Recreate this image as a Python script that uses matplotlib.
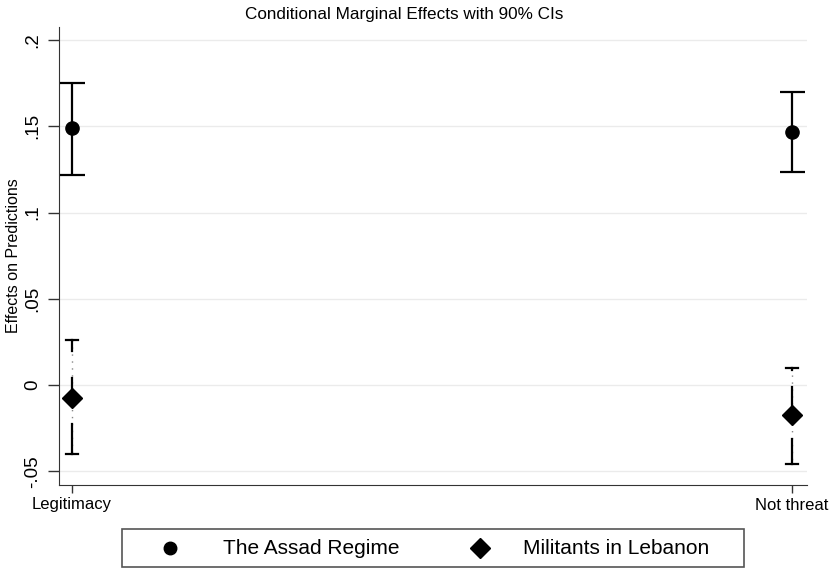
import numpy as np
import matplotlib
matplotlib.use("Agg")
import matplotlib.pyplot as plt
from matplotlib.lines import Line2D
from matplotlib.patches import Rectangle

plt.rcParams['font.family'] = ['Liberation Sans', 'DejaVu Sans']

categories = ['Legitimacy', 'Not threat']

# The Assad Regime
assad_est = [0.149, 0.1468]
assad_lo = [0.122, 0.1237]
assad_hi = [0.175, 0.170]

# Militants in Lebanon
mil_est = [-0.0075, -0.0173]
mil_lo = [-0.040, -0.0457]
mil_hi = [0.026, 0.0098]
# where the solid CI line turns dotted (upper part / lower part)
mil_dot_top = [0.020, 0.0088]
mil_dot_mid = [0.004, -0.001]
mil_dot_low = [-0.0225, -0.031]

yticks = [-0.05, 0, 0.05, 0.1, 0.15, 0.2]
ytick_labels = ['-.05', '0', '.05', '.1', '.15', '.2']
legend_labels = ['The Assad Regime', 'Militants in Lebanon']

W, H = 832, 569
fig = plt.figure(figsize=(W / 100, H / 100), dpi=100)
ax = fig.add_axes([59 / W, 1 - 485 / H, (807 - 59) / W, (485 - 27) / H])

x = np.arange(len(categories))

for y in yticks:
    ax.axhline(y, color='#ebebeb', lw=1, zorder=0)

# Assad: plain capped bars
ax.errorbar(x, assad_est,
            yerr=[np.array(assad_est) - np.array(assad_lo), np.array(assad_hi) - np.array(assad_est)],
            fmt='o', color='black', ms=9.5, elinewidth=1.6, capsize=9, capthick=1.6, zorder=3)

# Militants: caps + solid/dotted pieces
cap_w = 0.0085
for i in range(len(x)):
    xi = x[i]
    ax.plot([xi, xi], [mil_hi[i], mil_lo[i]], color='#888888', lw=1, ls=(0, (1, 4)), zorder=2)
    ax.plot([xi, xi], [mil_hi[i], mil_dot_top[i]], color='black', lw=1.6, zorder=2)
    ax.plot([xi, xi], [mil_dot_mid[i], mil_est[i]], color='black', lw=1.6, zorder=2)
    ax.plot([xi, xi], [mil_dot_low[i], mil_lo[i]], color='black', lw=1.6, zorder=2)
    ax.plot([xi - cap_w, xi + cap_w], [mil_hi[i], mil_hi[i]], color='black', lw=1.6, zorder=2)
    ax.plot([xi - cap_w, xi + cap_w], [mil_lo[i], mil_lo[i]], color='black', lw=1.6, zorder=2)
ax.plot(x, mil_est, 'D', color='black', ms=10, ls='none', zorder=3)

ax.set_xlim(-0.018, 1.021)
ax.set_ylim(-0.0579, 0.2075)
ax.set_xticks(x)
ax.set_xticklabels(categories, fontsize=12)
ax.set_yticks(yticks)
ax.set_yticklabels(ytick_labels, fontsize=13.5, rotation=90, va='center')
ax.tick_params(axis='y', length=8, width=1, color='#333333', pad=5)
ax.tick_params(axis='x', length=6, width=1, color='#333333', pad=3)

ax.spines['top'].set_visible(False)
ax.spines['right'].set_visible(False)
ax.spines['left'].set_color('#333333')
ax.spines['bottom'].set_color('#333333')

ax.set_ylabel('Effects on Predictions', fontsize=11.5, va='center')
ax.yaxis.set_label_coords(-0.061, 0.5)
fig.text(404 / W, 1 - 15 / H, 'Conditional Marginal Effects with 90% CIs',
         ha='center', va='center', fontsize=12.3)

# legend box drawn Stata-style
fig.add_artist(Rectangle((122 / W, 1 - 567 / H), (744 - 122) / W, (567 - 529) / H,
                         transform=fig.transFigure, fill=False, edgecolor='#555555', lw=1.2))
ly = 1 - 548 / H
fig.add_artist(Line2D([170 / W], [ly], transform=fig.transFigure, marker='o', ms=9, color='black'))
fig.add_artist(Line2D([480 / W], [ly], transform=fig.transFigure, marker='D', ms=10, color='black'))
fig.text(223 / W, ly, legend_labels[0], ha='left', va='center', fontsize=15)
fig.text(523 / W, ly, legend_labels[1], ha='left', va='center', fontsize=15)

fig.savefig('out.png', dpi=100)
